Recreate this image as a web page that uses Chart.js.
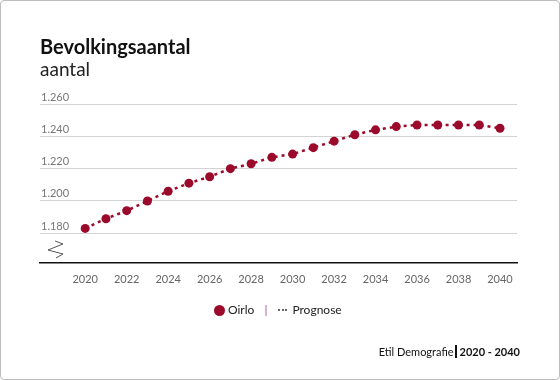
<!DOCTYPE html>
<html>
<head>
<meta charset="utf-8">
<script src="https://cdn.jsdelivr.net/npm/chart.js@4.4.0/dist/chart.umd.min.js"></script>
<style>
  html,body{margin:0;padding:0;background:#fff;}
  body{width:560px;height:380px;position:relative;overflow:hidden;font-family:Lato,"Noto Sans",sans-serif;}
  #card{position:absolute;left:0;top:0;width:558px;height:378px;border:1px solid #bdbdbd;border-radius:4px;}
  #c{position:absolute;left:0;top:0;}
  .t{position:absolute;white-space:nowrap;color:#111;}
  #title{left:40px;top:34px;font-size:20px;line-height:24px;font-weight:bold;}
  #sub{left:40px;top:58px;font-size:19px;line-height:22px;font-weight:normal;color:#222;}
  #legend{left:214px;top:302px;font-size:12px;line-height:16px;color:#222;display:flex;align-items:center;}
  #legend .dot{display:inline-block;width:11px;height:11px;border-radius:50%;background:#9B0A2B;margin-right:3px;}
  #legend .sep{color:#9a4f96;margin:0 11px 0 10px;}
  #legend .sq{display:inline-block;width:2px;height:2px;background:#666;margin-right:1.5px;}
  #legend .sq.last{margin-right:5px;}
  #foot{right:40px;top:344px;font-size:11px;line-height:16px;color:#111;}
  #foot .bar{display:inline-block;width:2px;height:13px;background:#111;vertical-align:-2px;margin:0 3px 0 1px;}
</style>
</head>
<body>
<div id="card"></div>
<canvas id="c" width="560" height="380"></canvas>
<div class="t" id="title">Bevolkingsaantal</div>
<div class="t" id="sub">aantal</div>
<div class="t" id="legend"><span class="dot"></span>Oirlo<span class="sep">|</span><span class="sq"></span><span class="sq"></span><span class="sq last"></span>Prognose</div>
<div class="t" id="foot">Etil Demografie<span class="bar"></span><b>2020 - 2040</b></div>
<script>
const years = [2020,2021,2022,2023,2024,2025,2026,2027,2028,2029,2030,2031,2032,2033,2034,2035,2036,2037,2038,2039,2040];
const oirlo = [1183,1189,1194,1200,1206,1211,1215,1220,1223,1227,1229,1233,1237,1241,1244,1246,1247,1247,1247,1247,1245];
const yTicks = [1180,1200,1220,1240,1260];
const xTicks = [2020,2022,2024,2026,2028,2030,2032,2034,2036,2038,2040];

const RED = '#9B0A2B';

const breakMark = {
  id: 'breakMark',
  afterDraw(chart){
    const a = chart.chartArea, ctx = chart.ctx;
    const x0 = a.left, y0 = a.bottom;
    ctx.save();
    ctx.strokeStyle = '#555';
    ctx.lineWidth = 1;
    ctx.beginPath();
    ctx.moveTo(x0+15, y0-22);
    ctx.lineTo(x0+23, y0-19);
    ctx.lineTo(x0+8, y0-13);
    ctx.lineTo(x0+23, y0-9);
    ctx.lineTo(x0+16, y0-5);
    ctx.stroke();
    ctx.restore();
  }
};

new Chart(document.getElementById('c'), {
  type: 'line',
  data: {
    datasets: [{
      label: 'Oirlo',
      data: years.map((y,i)=>({x:y, y:oirlo[i]})),
      borderColor: RED,
      backgroundColor: RED,
      borderWidth: 2.5,
      borderDash: [3,4],
      pointRadius: 4.5,
      pointBorderWidth: 0,
      pointBackgroundColor: RED,
      tension: 0,
      fill: false
    }]
  },
  options: {
    responsive: false,
    animation: false,
    layout: { padding: { left: 40, right: 43, top: 104, bottom: 87 } },
    plugins: { legend: { display: false }, tooltip: { enabled: false } },
    scales: {
      x: {
        type: 'linear',
        min: 2017.82,
        max: 2040.82,
        afterBuildTicks: (s) => { s.ticks = xTicks.map(v=>({value:v})); },
        afterFit: (s) => { s.height = 30; },
        grid: { display: false, drawTicks: false },
        border: { display: true, color: '#111', width: 1.5 },
        ticks: {
          autoSkip: false, maxRotation: 0, padding: 10,
          color: '#666', font: { family: 'Lato', size: 11 },
          callback: (v) => String(v)
        }
      },
      y: {
        min: 1161.6,
        max: 1260,
        afterBuildTicks: (s) => { s.ticks = yTicks.map(v=>({value:v})); },
        afterFit: (s) => { s.width = 0; },
        grid: { color: '#d3d3d3', lineWidth: 1, drawTicks: false },
        border: { display: false },
        ticks: {
          mirror: true, padding: 1, labelOffset: -7,
          color: '#777', font: { family: 'Lato', size: 11 },
          callback: (v) => (v/1000).toFixed(3)
        }
      }
    }
  },
  plugins: [breakMark]
});
</script>
</body>
</html>
